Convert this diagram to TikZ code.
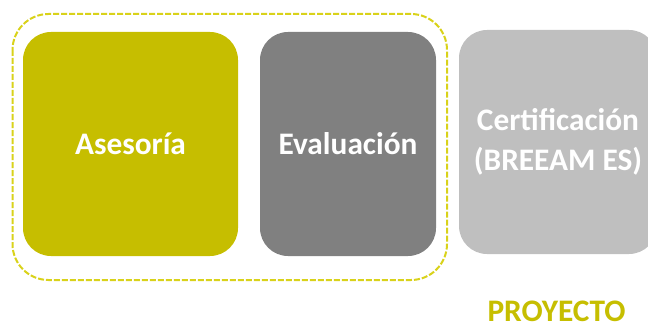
\documentclass[tikz,border=0pt]{standalone}
\usepackage{fontspec}
\setmainfont{Carlito}
\definecolor{olive}{HTML}{C6BE00}
\definecolor{dashyellow}{HTML}{D9D21A}
\definecolor{midgray}{HTML}{808080}
\definecolor{softgray}{HTML}{BFBFBF}
\tikzset{
  stage/.style = {rounded corners = 21pt, minimum height = 168pt, inner sep = 0pt,
    text = white, align = center, font = \bfseries\fontsize{23.5}{30}\selectfont},
}
\begin{document}
\begin{tikzpicture}[x = 0.75pt, y = -0.75pt]
      \useasboundingbox (0, 0) rectangle (648, 324);
      \clip (0, 0) rectangle (648, 324);

      \node[stage, fill = olive, minimum width = 161.25pt] (ases) at (130.5, 144) {Asesoría};
      \node[stage, fill = midgray, minimum width = 132pt] (eval) at (348, 144) {Evaluación};
      \node[stage, fill = softgray, minimum width = 148.5pt] (cert) at (558, 142) {Certificación\\(BREEAM ES)};

      \draw[dashyellow, line width = 1.5pt, dash pattern = on 4.5pt off 1.5pt, rounded corners = 27pt]
        (12.5, 14) rectangle (447, 280);

      \node[anchor = base, text = olive, inner sep = 0pt, font = \bfseries\fontsize{23.5}{30}\selectfont]
        (proj) at (556.5, 321) {PROYECTO};
    \end{tikzpicture}
\end{document}
